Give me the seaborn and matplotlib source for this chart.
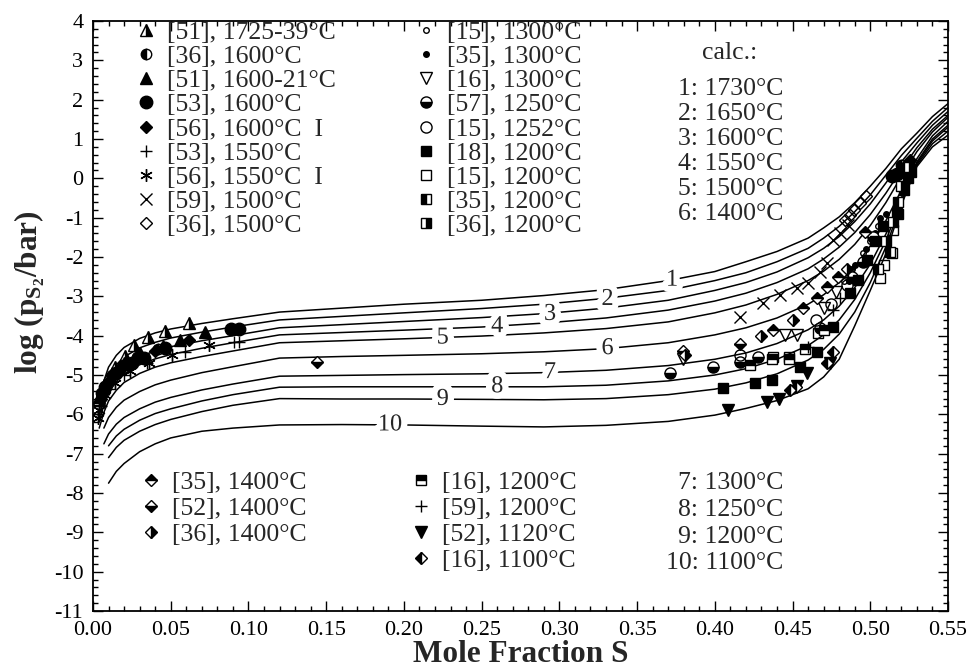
import numpy as np
import pandas as pd
import matplotlib
matplotlib.use("Agg")
import matplotlib.pyplot as plt
import matplotlib.patheffects as pe
from matplotlib.ticker import MultipleLocator, FormatStrFormatter
import seaborn as sns

# ---------------- calculated curves ----------------
x_calc = [0.004, 0.007, 0.010, 0.015, 0.020, 0.030, 0.040, 0.050, 0.070, 0.090,
          0.120, 0.160, 0.200, 0.250, 0.290, 0.330, 0.370,
          0.400, 0.420, 0.440, 0.460, 0.470, 0.480, 0.490, 0.500, 0.510,
          0.520, 0.530, 0.540, 0.550]
nan = np.nan
calc_1 = [-5.75, -5.15, -4.80, -4.50, -4.30, -4.07, -3.93, -3.83, -3.69, -3.57,
          -3.40, -3.30, -3.20, -3.10, -2.98, -2.83, -2.60,
          -2.37, -2.12, -1.86, -1.52, -1.26, -0.98, -0.62, -0.20, 0.25, 0.75, 1.15, 1.57, 1.90]
calc_2 = [-5.90, -5.35, -5.02, -4.74, -4.54, -4.31, -4.17, -4.06, -3.91, -3.78,
          -3.60, -3.51, -3.42, -3.31, -3.20, -3.05, -2.85,
          -2.60, -2.40, -2.12, -1.78, -1.52, -1.22, -0.85, -0.42, 0.08, 0.58, 1.02, 1.45, 1.80]
calc_3 = [-6.05, -5.55, -5.24, -4.96, -4.76, -4.53, -4.39, -4.28, -4.13, -4.00,
          -3.80, -3.72, -3.64, -3.54, -3.44, -3.30, -3.10,
          -2.85, -2.65, -2.38, -2.02, -1.78, -1.48, -1.10, -0.65, -0.12, 0.42, 0.90, 1.35, 1.70]
calc_4 = [-6.20, -5.75, -5.45, -5.17, -4.97, -4.74, -4.59, -4.48, -4.32, -4.18,
          -3.98, -3.92, -3.86, -3.78, -3.68, -3.55, -3.35,
          -3.12, -2.92, -2.65, -2.30, -2.05, -1.75, -1.38, -0.92, -0.38, 0.22, 0.78, 1.25, 1.60]
calc_5 = [-6.35, -5.95, -5.66, -5.39, -5.19, -4.96, -4.80, -4.69, -4.53, -4.39,
          -4.18, -4.13, -4.08, -4.01, -3.93, -3.82, -3.65,
          -3.42, -3.22, -2.95, -2.60, -2.36, -2.06, -1.68, -1.20, -0.62, 0.05, 0.68, 1.18, 1.55]
calc_6 = [nan, -6.35, -6.08, -5.82, -5.64, -5.42, -5.25, -5.13, -4.94, -4.79,
          -4.57, -4.53, -4.50, -4.46, -4.41, -4.33, -4.18,
          -3.98, -3.80, -3.55, -3.20, -2.96, -2.65, -2.25, -1.72, -1.08, -0.30, 0.50, 1.08, 1.45]
calc_7 = [nan, -6.75, -6.50, -6.25, -6.08, -5.86, -5.69, -5.57, -5.38, -5.23,
          -5.03, -5.01, -4.99, -4.97, -4.94, -4.88, -4.76,
          -4.60, -4.44, -4.20, -3.85, -3.60, -3.25, -2.78, -2.18, -1.42, -0.50, 0.42, 1.00, 1.35]
calc_8 = [nan, nan, -6.80, -6.55, -6.38, -6.15, -5.98, -5.86, -5.66, -5.50,
          -5.31, -5.30, -5.30, -5.30, -5.30, -5.26, -5.15,
          -5.00, -4.84, -4.60, -4.25, -3.98, -3.60, -3.08, -2.40, -1.58, -0.58, 0.38, 0.95, 1.30]
calc_9 = [nan, nan, -7.10, -6.84, -6.66, -6.43, -6.26, -6.13, -5.93, -5.77,
          -5.60, -5.61, -5.61, -5.62, -5.63, -5.60, -5.50,
          -5.36, -5.20, -4.97, -4.62, -4.35, -3.96, -3.40, -2.65, -1.75, -0.64, 0.34, 0.88, 1.20]
calc_10 = [nan, nan, -7.75, -7.45, -7.25, -6.95, -6.75, -6.60, -6.43, -6.35,
           -6.27, -6.26, -6.27, -6.30, -6.32, -6.28, -6.18,
           -6.02, -5.85, -5.65, -5.35, -5.05, -4.60, -3.75, -2.85, -1.92, -0.68, 0.30, 0.80, 1.10]
calc_curves = [calc_1, calc_2, calc_3, calc_4, calc_5, calc_6, calc_7, calc_8, calc_9, calc_10]
curve_ids = ["1", "2", "3", "4", "5", "6", "7", "8", "9", "10"]
curve_temps = ["1730", "1650", "1600", "1550", "1500", "1400", "1300", "1250", "1200", "1100"]
# positions of the curve numbers (data coords)
label_x = [0.3725, 0.331, 0.294, 0.260, 0.225, 0.331, 0.294, 0.260, 0.225, 0.191]
label_y = [-2.59, -3.08, -3.46, -3.77, -4.06, -4.33, -4.94, -5.30, -5.62, -6.27]

# ---------------- experimental points ----------------
s51a_x = [0.004, 0.006, 0.009, 0.0144, 0.0208, 0.0262, 0.0354, 0.0466, 0.0616]
s51a_y = [-5.60, -5.38, -5.10, -4.80, -4.52, -4.24, -4.04, -3.87, -3.69]
s36a_x = [0.005, 0.012, 0.019, 0.028, 0.042, 0.520]
s36a_y = [-5.45, -5.00, -4.75, -4.55, -4.35, 0.35]
s51b_x = [0.004, 0.007, 0.012, 0.020, 0.030, 0.045, 0.0562, 0.0722, 0.521]
s51b_y = [-5.55, -5.25, -4.95, -4.70, -4.45, -4.25, -4.11, -3.90, 0.30]
s53a_x = [0.008, 0.015, 0.025, 0.0326, 0.046, 0.089, 0.094, 0.5138, 0.517]
s53a_y = [-5.30, -4.95, -4.70, -4.57, -4.31, -3.84, -3.84, 0.05, 0.12]
s56a_x = [0.005, 0.010, 0.018, 0.028, 0.040, 0.0616, 0.5255]
s56a_y = [-5.60, -5.15, -4.85, -4.60, -4.40, -4.11, 0.47]
s53b_x = [0.003, 0.005, 0.010, 0.020, 0.035, 0.059, 0.0905, 0.0937]
s53b_y = [-6.00, -5.80, -5.35, -5.00, -4.70, -4.41, -4.15, -4.15]
s56b_x = [0.003, 0.004, 0.008, 0.014, 0.024, 0.036, 0.0508, 0.0744]
s56b_y = [-6.10, -5.90, -5.50, -5.20, -4.90, -4.70, -4.49, -4.24]
s59a_x = [0.4162, 0.431, 0.442, 0.4527, 0.460, 0.4677, 0.472, 0.476, 0.4805, 0.4857]
s59a_y = [-3.52, -3.17, -2.97, -2.79, -2.66, -2.37, -2.15, -1.57, -1.40, -1.19]
s36b_x = [0.484, 0.487, 0.4895, 0.4934, 0.497]
s36b_y = [-1.05, -0.93, -0.80, -0.63, -0.45]

s15a_x = [0.483, 0.488, 0.495, 0.500, 0.505]
s15a_y = [-2.60, -2.30, -1.90, -1.60, -1.20]
s35a_x = [0.486, 0.490, 0.497, 0.503, 0.506, 0.510]
s35a_y = [-2.60, -2.20, -1.80, -1.40, -1.00, -0.90]
s16a_x = [0.3795, 0.4454, 0.4527, 0.470, 0.478, 0.486]
s16a_y = [-4.60, -3.98, -3.98, -3.30, -2.90, -2.40]
s57_x = [0.3712, 0.399, 0.4162, 0.428, 0.4677, 0.488, 0.4955, 0.502]
s57_y = [-4.96, -4.79, -4.66, -4.54, -3.80, -2.50, -2.12, -1.50]
s15b_x = [0.416, 0.465, 0.475, 0.485]
s15b_y = [-4.50, -3.60, -3.20, -2.70]
s18_x = [0.4055, 0.4259, 0.4366, 0.4548, 0.4655, 0.476, 0.487, 0.492, 0.4977,
         0.503, 0.508, 0.5175, 0.5215, 0.524, 0.526]
s18_y = [-5.34, -5.21, -5.13, -4.79, -4.41, -3.77, -2.92, -2.59, -2.08,
         -1.60, -1.20, -0.89, -0.30, 0.00, 0.15]
s15c_x = [0.4376, 0.448, 0.4665, 0.5063, 0.509, 0.5138, 0.5146, 0.518]
s15c_y = [-4.54, -4.54, -3.94, -2.53, -2.20, -1.90, -1.31, -0.90]
s35b_x = [0.505, 0.5127, 0.518]
s35b_y = [-2.30, -1.87, -0.60]
s36c_x = [0.510, 0.5146, 0.520, 0.525]
s36c_y = [-1.60, -1.10, -0.20, 0.30]

s35c_x = [0.4374, 0.457, 0.4657, 0.472, 0.479, 0.4966]
s35c_y = [-3.86, -3.30, -3.04, -2.76, -2.50, -1.36]
s52a_x = [0.1439, 0.3797, 0.416]
s52a_y = [-4.66, -4.38, -4.20]
s36d_x = [0.381, 0.430, 0.450, 0.485]
s36d_y = [-4.50, -4.00, -3.60, -2.30]
s16b_x = [0.4226, 0.437, 0.448, 0.458, 0.470]
s16b_y = [-4.75, -4.60, -4.60, -4.35, -3.85]
s59b_x = [0.460, 0.476, 0.4805, 0.4857]
s59b_y = [-4.28, -3.35, -3.04, -2.50]
s52b_x = [0.4087, 0.4334, 0.4412, 0.4527, 0.459, 0.4741]
s52b_y = [-5.89, -5.68, -5.62, -5.29, -4.96, -4.70]
s16c_x = [0.4484, 0.452, 0.472, 0.4763]
s16c_y = [-5.38, -5.30, -4.70, -4.41]

top_left_labels = ["[51], 1725-39°C", "[36], 1600°C", "[51], 1600-21°C", "[53], 1600°C",
                   "[56], 1600°C  I", "[53], 1550°C", "[56], 1550°C  I", "[59], 1500°C", "[36], 1500°C"]
top_mid_labels = ["[15], 1300°C", "[35], 1300°C", "[16], 1300°C", "[57], 1250°C", "[15], 1252°C",
                  "[18], 1200°C", "[15], 1200°C", "[35], 1200°C", "[36], 1200°C"]
bot_left_labels = ["[35], 1400°C", "[52], 1400°C", "[36], 1400°C"]
bot_mid_labels = ["[16], 1200°C", "[59], 1200°C", "[52], 1120°C", "[16], 1100°C"]

# ---------------- style ----------------
sns.set_theme(style="ticks")
plt.rcParams["font.family"] = ["Liberation Serif", "DejaVu Serif"]
plt.rcParams["mathtext.fontset"] = "custom"
plt.rcParams["mathtext.rm"] = "Liberation Serif"
plt.rcParams["mathtext.bf"] = "Liberation Serif:bold"
plt.rcParams["mathtext.it"] = "Liberation Serif:italic"
plt.rcParams["axes.unicode_minus"] = False

FS = 18.5
fig = plt.figure(figsize=(9.72, 6.71), dpi=100)
ax = fig.add_axes([93 / 972, 60 / 671, 855 / 972, 590 / 671])

df = pd.concat([pd.DataFrame({"x": x_calc, "y": c, "curve": cid})
                for c, cid in zip(calc_curves, curve_ids)], ignore_index=True).dropna()
sns.lineplot(data=df, x="x", y="y", units="curve", estimator=None, sort=False,
             color="black", lw=1.1, ax=ax, legend=False)

for cid, lx, ly in zip(curve_ids, label_x, label_y):
    ax.text(lx, ly, cid, fontsize=17.5, ha="center", va="center", zorder=5,
            path_effects=[pe.withStroke(linewidth=9, foreground="white")])

def pts(x, y, marker, fill="full", ms=7, mew=1.0):
    line, = ax.plot(x, y, linestyle="none", marker=marker, fillstyle=fill, ms=ms,
                    mec="black", mfc="black", mfcalt="white", mew=mew, zorder=6)
    return line

h_tl = [pts(s51a_x, s51a_y, "^", "right", 8),
        pts(s36a_x, s36a_y, "o", "left", 7.5),
        pts(s51b_x, s51b_y, "^", "full", 8),
        pts(s53a_x, s53a_y, "o", "full", 9),
        pts(s56a_x, s56a_y, "D", "full", 6.5),
        pts(s53b_x, s53b_y, "+", "full", 9, 1.0),
        pts(s56b_x, s56b_y, (6, 2, 0), "full", 9, 1.0),
        pts(s59a_x, s59a_y, "x", "full", 8.5, 1.0),
        pts(s36b_x, s36b_y, "D", "none", 6.5)]
h_tm = [pts(s15a_x, s15a_y, "o", "none", 4),
        pts(s35a_x, s35a_y, "o", "full", 4),
        pts(s16a_x, s16a_y, "v", "none", 8),
        pts(s57_x, s57_y, "o", "bottom", 8),
        pts(s15b_x, s15b_y, "o", "none", 8),
        pts(s18_x, s18_y, "s", "full", 7),
        pts(s15c_x, s15c_y, "s", "none", 7),
        pts(s35b_x, s35b_y, "s", "left", 7),
        pts(s36c_x, s36c_y, "s", "right", 7)]
h_bl = [pts(s35c_x, s35c_y, "D", "top", 6.5),
        pts(s52a_x, s52a_y, "D", "bottom", 6.5),
        pts(s36d_x, s36d_y, "D", "right", 6.5)]
h_bm = [pts(s16b_x, s16b_y, "s", "top", 7),
        pts(s59b_x, s59b_y, "+", "full", 9, 1.0),
        pts(s52b_x, s52b_y, "v", "full", 8),
        pts(s16c_x, s16c_y, "D", "left", 6.5)]

leg_kw = dict(frameon=False, fontsize=FS, handlelength=0.8, handletextpad=0.4,
              borderpad=0, borderaxespad=0, loc="upper left", numpoints=1)
legs = [ax.legend(h_tl, top_left_labels, bbox_to_anchor=(0.0503, 1.0), labelspacing=0.045, **leg_kw),
        ax.legend(h_tm, top_mid_labels, bbox_to_anchor=(0.378, 1.0), labelspacing=0.045, **leg_kw),
        ax.legend(h_bl, bot_left_labels, bbox_to_anchor=(0.0562, 0.238), labelspacing=0.125, **leg_kw),
        ax.legend(h_bm, bot_mid_labels, bbox_to_anchor=(0.372, 0.238), labelspacing=0.125, **leg_kw)]
for lg in legs[:-1]:
    ax.add_artist(lg)

ax.text(0.745, 0.946, "calc.:", transform=ax.transAxes, fontsize=FS, ha="center", va="center")
calc_y_top = [0.8847, 0.8424, 0.800, 0.7576, 0.7153, 0.673]
calc_y_bot = [0.217, 0.171, 0.125, 0.081]
for i, (cid, t) in enumerate(zip(curve_ids, curve_temps)):
    yy = calc_y_top[i] if i < 6 else calc_y_bot[i - 6]
    ax.text(0.807, yy, f"{cid}: {t}°C", transform=ax.transAxes, fontsize=FS,
            ha="right", va="center")

ax.set_xlim(0.0, 0.55)
ax.set_ylim(-11, 4)
ax.xaxis.set_major_locator(MultipleLocator(0.05))
ax.xaxis.set_minor_locator(MultipleLocator(0.01))
ax.xaxis.set_major_formatter(FormatStrFormatter("%.2f"))
ax.yaxis.set_major_locator(MultipleLocator(1))
ax.yaxis.set_minor_locator(MultipleLocator(0.2))
ax.tick_params(which="both", direction="in", top=True, right=True, colors="black",
               labelsize=16, width=1.0)
ax.tick_params(which="major", length=7, pad=7)
ax.tick_params(which="minor", length=3.5)
for sp in ax.spines.values():
    sp.set_linewidth(1.3)
    sp.set_color("black")

ax.set_xlabel("Mole Fraction S", fontsize=22.5, fontweight="bold", labelpad=0)
ax.set_ylabel(r"log (p$_{\mathbf{S}_{\mathbf{2}}}$/bar)", fontsize=22.5, fontweight="bold")
ax.yaxis.set_label_coords(-0.054, 0.54)

fig.savefig("out.png", dpi=100, facecolor="white")
